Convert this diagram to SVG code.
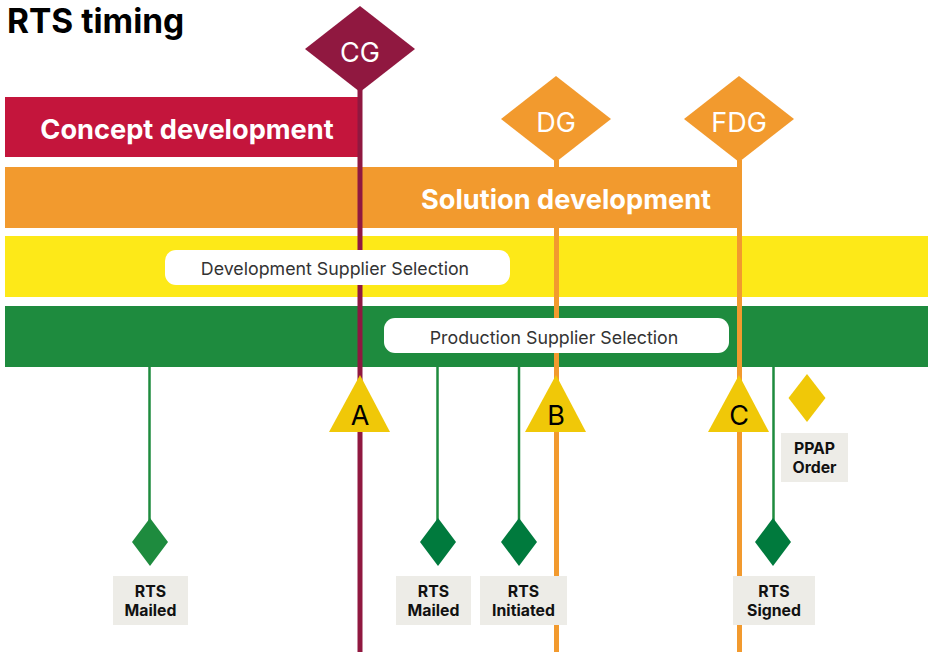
<svg xmlns="http://www.w3.org/2000/svg" width="928" height="652" viewBox="0 0 928 652">
<style>
.bar{font-family:Inter,"Liberation Sans",sans-serif;font-weight:700;font-size:27.2px;fill:#fff;text-anchor:middle}
.gate{font-family:Inter,"Liberation Sans",sans-serif;font-size:27px;fill:#fff;text-anchor:middle}
.tri{font-family:Inter,"Liberation Sans",sans-serif;font-size:27px;fill:#000;text-anchor:middle}
.pill{fill:#fff}
.pilltxt{font-family:Inter,"Liberation Sans",sans-serif;font-size:17.8px;fill:#333;text-anchor:middle}
.lbl{fill:#EDECE7}
.lbltxt{font-family:Inter,"Liberation Sans",sans-serif;font-weight:700;font-size:15.8px;fill:#111;text-anchor:middle}
.stem{stroke:#1E8B3E;stroke-width:2.5;fill:none}
.ytri{fill:#F0C808}
.gd{fill:#007A3D}
</style>
<text x="7" y="33" font-family="Inter,'Liberation Sans',sans-serif" font-size="33.5" font-weight="700" fill="#000">RTS timing</text>

<g id="bars">
<rect x="5" y="97" width="354" height="60" fill="#C4153C"/>
<rect x="5" y="167" width="737" height="61" fill="#F29A2E"/>
<rect x="5" y="236" width="923" height="61" fill="#FDE918"/>
<rect x="5" y="306" width="923" height="61" fill="#1E8B3E"/>
</g>

<g id="connectors">
<line x1="360" y1="90" x2="360" y2="652" stroke="#901840" stroke-width="5"/>
<line x1="556.5" y1="160" x2="556.5" y2="652" stroke="#F29A2E" stroke-width="5"/>
<line x1="739.5" y1="160" x2="739.5" y2="652" stroke="#F29A2E" stroke-width="5"/>
<line class="stem" x1="149.5" y1="367" x2="149.5" y2="522"/>
<line class="stem" x1="437.5" y1="367" x2="437.5" y2="522"/>
<line class="stem" x1="519" y1="367" x2="519" y2="522"/>
<line class="stem" x1="773.5" y1="367" x2="773.5" y2="522"/>
</g>

<g id="concept">
<text class="bar" x="187" y="139">Concept development</text>
</g>
<g id="solution">
<text class="bar" x="566" y="209">Solution development</text>
</g>

<g id="dev-supplier">
<rect class="pill" x="165" y="250" width="345" height="35" rx="11"/>
<text class="pilltxt" x="335" y="275">Development Supplier Selection</text>
</g>
<g id="prod-supplier">
<rect class="pill" x="384" y="318" width="345" height="35" rx="11"/>
<text class="pilltxt" x="554" y="344">Production Supplier Selection</text>
</g>

<g id="CG">
<polygon points="360,6 415,49 360,92 305,49" fill="#901840"/>
<text class="gate" x="360" y="62">CG</text>
</g>
<g id="DG">
<polygon points="556,76 611,119 556,162 501,119" fill="#F29A2E"/>
<text class="gate" x="556" y="132">DG</text>
</g>
<g id="FDG">
<polygon points="739,76 794,119 739,162 684,119" fill="#F29A2E"/>
<text class="gate" x="739" y="132">FDG</text>
</g>

<g id="A">
<polygon class="ytri" points="360,375 390,432 329,432"/>
<text class="tri" x="360" y="425">A</text>
</g>
<g id="B">
<polygon class="ytri" points="556,375 586,432 525,432"/>
<text class="tri" x="556" y="425">B</text>
</g>
<g id="C">
<polygon class="ytri" points="739,375 769,432 708,432"/>
<text class="tri" x="739" y="425">C</text>
</g>

<g id="ppap">
<polygon points="807,374 825.5,398 807,422 788.5,398" fill="#F0C808"/>
<rect class="lbl" x="781" y="433" width="67" height="49"/>
<text class="lbltxt"><tspan x="814.5" y="454">PPAP</tspan><tspan x="814.5" y="473">Order</tspan></text>
</g>

<g id="rts-mailed-1">
<polygon points="150,518 168,542 150,566 132,542" fill="#1E8B3E"/>
<rect class="lbl" x="113" y="576" width="75" height="49"/>
<text class="lbltxt"><tspan x="150.5" y="597">RTS</tspan><tspan x="150.5" y="616">Mailed</tspan></text>
</g>
<g id="rts-mailed-2">
<polygon class="gd" points="438,518 456,542 438,566 420,542"/>
<rect class="lbl" x="396" y="576" width="75" height="49"/>
<text class="lbltxt"><tspan x="433.5" y="597">RTS</tspan><tspan x="433.5" y="616">Mailed</tspan></text>
</g>
<g id="rts-initiated">
<polygon class="gd" points="519,518 537,542 519,566 501,542"/>
<rect class="lbl" x="480" y="576" width="87" height="49"/>
<text class="lbltxt"><tspan x="523.5" y="597">RTS</tspan><tspan x="523.5" y="616">Initiated</tspan></text>
</g>
<g id="rts-signed">
<polygon class="gd" points="773,518 791,542 773,566 755,542"/>
<rect class="lbl" x="733" y="576" width="82" height="49"/>
<text class="lbltxt"><tspan x="774" y="597">RTS</tspan><tspan x="774" y="616">Signed</tspan></text>
</g>
</svg>
